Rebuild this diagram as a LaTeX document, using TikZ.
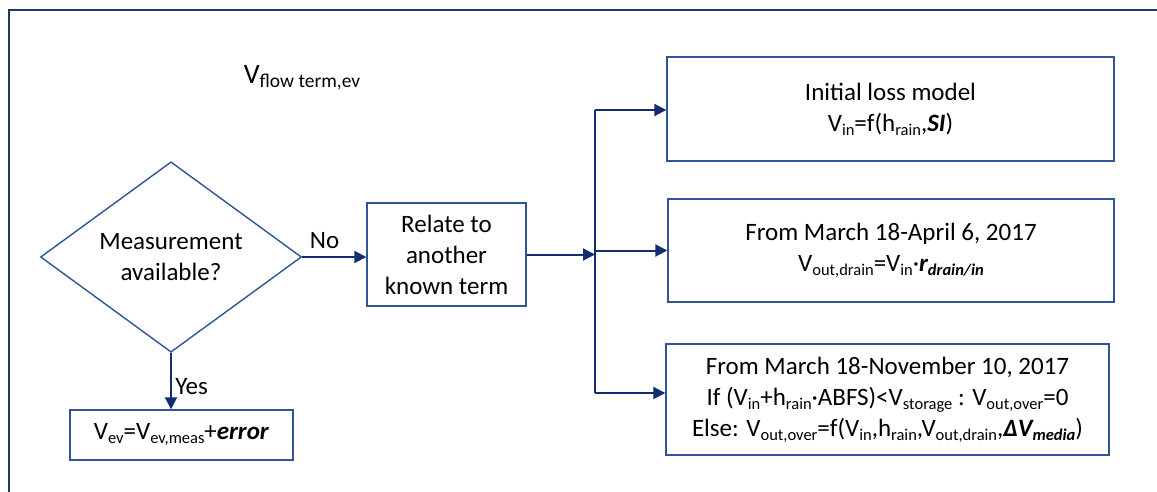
\documentclass[tikz,border=0pt]{standalone}
\usepackage{fontspec}
\setmainfont{Carlito}
\usepackage{graphicx}
\usetikzlibrary{calc, positioning}
\usetikzlibrary{arrows.meta}
\usetikzlibrary{shapes.geometric}

\definecolor{BoxBlue}{RGB}{47,85,151}
\definecolor{ArrowBlue}{RGB}{20,45,110}
\definecolor{FrameBlue}{RGB}{31,56,100}

\newcommand{\idx}[2][16.5]{\raisebox{-4pt}{\fontsize{#1}{#1}\selectfont #2}}
\newcommand{\bi}[1]{\textbf{\textit{#1}}}

\begin{document}
\begin{tikzpicture}[x=1pt, y=-1pt,
  font=\fontsize{25}{31}\selectfont,
  box/.style={draw=BoxBlue, line width=1.4pt, align=center, inner sep=0pt},
  decision/.style={diamond, draw=BoxBlue, line width=1.4pt, align=center,
    inner sep=0pt, minimum width=261pt, minimum height=172pt},
  arr/.style={draw=ArrowBlue, line width=2pt, -{Triangle[length=12pt, width=12pt]}}]

\useasboundingbox (0,0) rectangle (1157,492);

% outer frame
\draw[FrameBlue, line width=2.5pt] (9,500) -- (9,10) -- (1165,10);

\node[font=\fontsize{28}{30}\selectfont] (title) at (302,78) {V\idx[19.5]{flow term,ev}};

\node[decision] (dia) at (171,257) {Measurement\\available?};
\node[box, minimum width=159pt, minimum height=103pt] (rel) at (446.5,254.5)
  {Relate to\\another\\known term};
\node[box, minimum width=223pt, minimum height=50pt] (err) at (181.5,435)
  {V\idx{ev}=V\idx{ev,meas}+\bi{error}};

\node[box, minimum width=447pt, minimum height=104pt] (loss) at (890.5,109)
  {Initial loss model\\V\idx{in}=f(h\idx{rain},\bi{SI})};
\node[box, minimum width=446pt, minimum height=103pt] (drain) at (891,250.5)
  {From March 18-April 6, 2017\\V\idx{out,drain}=V\idx{in}·\bi{r\idx{drain/in}}};
\node[box, minimum width=443pt, minimum height=111pt] (over) at (887.5,399.5)
  {From March 18-November 10, 2017\\
   If (V\idx{in}+h\idx{rain}·ABFS)<V\idx{storage} : V\idx{out,over}=0\\
   Else: V\idx{out,over}=f(V\idx{in},h\idx{rain},V\idx{out,drain},\bi{ΔV\idx{media}})};

% bus to the three models
\coordinate (bustop) at (595,110);
\coordinate (busbot) at (595,393);
\draw[ArrowBlue, line width=2pt] (bustop) -- (busbot);

\draw[arr] (dia.east) -- node[above, pos=0.35, yshift=4pt] {No} (dia.east -| rel.west);
\draw[arr] (dia.south) -- node[right, pos=0.6] {Yes} (dia.south |- err.north);
\draw[arr] (rel.east) -- (rel.east -| bustop);
\draw[arr] (bustop) -- (bustop -| loss.west);
\draw[arr] (bustop |- drain.west) -- (drain.west);
\draw[arr] (busbot) -- (busbot -| over.west);
\end{tikzpicture}
\end{document}
